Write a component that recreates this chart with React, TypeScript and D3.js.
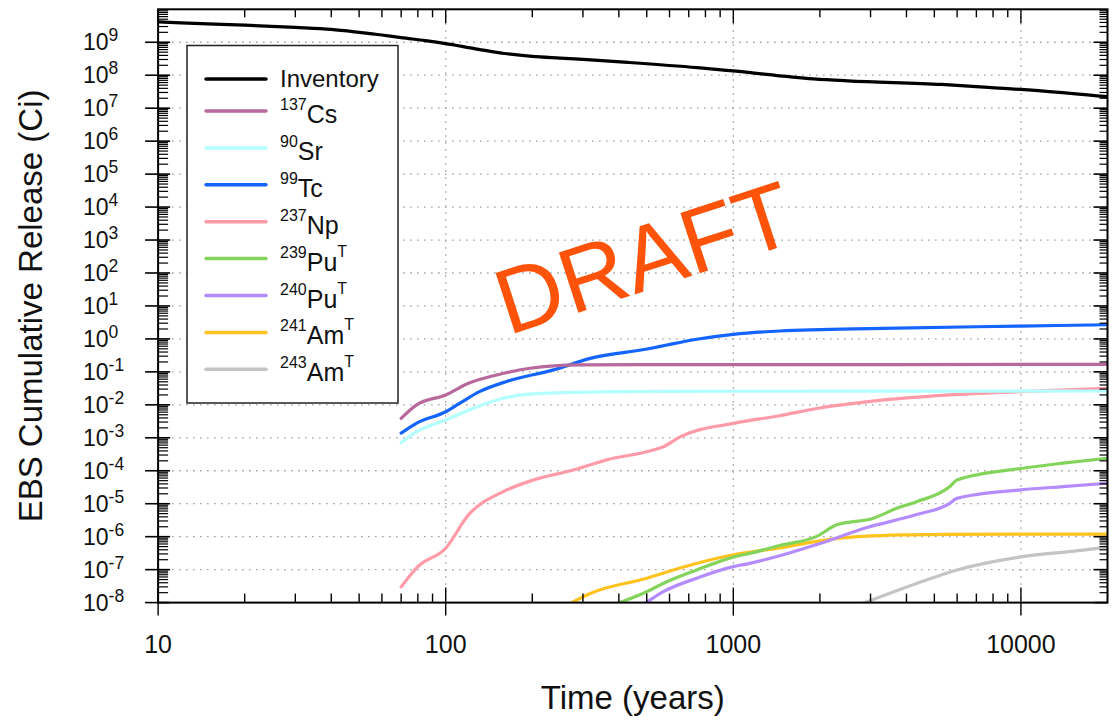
import React from 'react';
import * as d3 from 'd3';

const W = 1113;
const H = 721;
const PL = 158.1, PR = 1107.5, PT = 9.3, PB = 602.6;

// ---- data (time in years, cumulative release in Ci) ----
const inventoryT = [10, 12, 20, 30, 40, 50, 60, 70, 85, 100, 115, 135, 160, 200, 250, 300, 430, 750, 1000, 1900, 2500, 5300, 7700, 12000, 20000];
const inventoryV = [4.17e9, 3.89e9, 3.31e9, 2.82e9, 2.45e9, 2.0e9, 1.66e9, 1.38e9, 1.12e9, 9.12e8, 7.41e8, 5.75e8, 4.57e8, 3.72e8, 3.31e8, 3.02e8, 2.45e8, 1.7e8, 1.35e8, 7.76e7, 6.76e7, 5.25e7, 4.27e7, 3.31e7, 2.24e7];

const cs137T = [70, 79, 100, 120, 158, 196, 293, 500, 1000, 20000];
const cs137V = [3.9e-3, 9.8e-3, 2.0e-2, 4.5e-2, 8.9e-2, 1.29e-1, 1.62e-1, 1.66e-1, 1.66e-1, 1.7e-1];

const sr90T = [70, 79, 100, 125, 158, 202, 293, 600, 20000];
const sr90V = [7.1e-4, 1.51e-3, 3.47e-3, 7.9e-3, 1.58e-2, 2.14e-2, 2.4e-2, 2.57e-2, 2.63e-2];

const tc99T = [70, 79, 100, 112, 131, 163, 237, 318, 513, 587, 746, 1000, 1450, 3300, 10000, 20000];
const tc99V = [1.38e-3, 2.75e-3, 6.17e-3, 1.12e-2, 2.51e-2, 5.13e-2, 1.15e-1, 2.57e-1, 5.13e-1, 6.53e-1, 0.977, 1.38, 1.74, 2.09, 2.45, 2.69];

const np237T = [70, 80, 100, 120, 158, 202, 278, 363, 527, 571, 653, 1000, 1450, 1950, 2900, 5660, 10000, 20000];
const np237V = [3.0e-8, 1.23e-7, 4.47e-7, 4.57e-6, 2.29e-5, 5.25e-5, 1.05e-4, 2.14e-4, 4.27e-4, 5.37e-4, 1.07e-3, 2.75e-3, 4.68e-3, 7.76e-3, 1.23e-2, 2.0e-2, 2.51e-2, 3.16e-2];

const pu239T = [390, 500, 587, 746, 1000, 1150, 1450, 1950, 2290, 3070, 3700, 4340, 5660, 5990, 10000, 14000, 20000];
const pu239V = [9.0e-9, 2.14e-8, 4.27e-8, 9.8e-8, 2.4e-7, 3.16e-7, 5.4e-7, 1.02e-6, 2.29e-6, 3.63e-6, 7.24e-6, 1.15e-5, 3.31e-5, 5.25e-5, 1.17e-4, 1.7e-4, 2.4e-4];

const pu240T = [490, 571, 746, 1000, 1150, 1450, 1950, 2900, 4340, 5660, 5990, 10000, 14000, 20000];
const pu240V = [9.0e-9, 2.14e-8, 5.5e-8, 1.23e-7, 1.58e-7, 2.63e-7, 5.75e-7, 1.86e-6, 4.68e-6, 1.02e-5, 1.45e-5, 2.63e-5, 3.31e-5, 4.17e-5];

const am241T = [268, 318, 500, 653, 1000, 1450, 1950, 2220, 3860, 5660, 20000];
const am241V = [9.0e-9, 1.9e-8, 5.5e-8, 1.12e-7, 2.82e-7, 4.57e-7, 7.2e-7, 8.6e-7, 1.13e-6, 1.18e-6, 1.2e-6];

const am243T = [2780, 4340, 5990, 8090, 10000, 16500, 20000];
const am243V = [9.0e-9, 3.8e-8, 9.8e-8, 1.78e-7, 2.45e-7, 3.9e-7, 4.9e-7];

const xTickValues = [10, 100, 1000, 10000];
const xTickLabels = ['10', '100', '1000', '10000'];
const yTickExponents = [-8, -7, -6, -5, -4, -3, -2, -1, 0, 1, 2, 3, 4, 5, 6, 7, 8, 9];

type Series = { key: string; sup: string; main: string; supAfter: string; color: string; t: number[]; v: number[] };

const series: Series[] = [
  { key: 'inv', sup: '', main: 'Inventory', supAfter: '', color: '#000000', t: inventoryT, v: inventoryV },
  { key: 'cs', sup: '137', main: 'Cs', supAfter: '', color: '#b8699b', t: cs137T, v: cs137V },
  { key: 'sr', sup: '90', main: 'Sr', supAfter: '', color: '#b3ffff', t: sr90T, v: sr90V },
  { key: 'tc', sup: '99', main: 'Tc', supAfter: '', color: '#1464ff', t: tc99T, v: tc99V },
  { key: 'np', sup: '237', main: 'Np', supAfter: '', color: '#ff9aa8', t: np237T, v: np237V },
  { key: 'pu239', sup: '239', main: 'Pu', supAfter: 'T', color: '#84d45c', t: pu239T, v: pu239V },
  { key: 'pu240', sup: '240', main: 'Pu', supAfter: 'T', color: '#b58cff', t: pu240T, v: pu240V },
  { key: 'am241', sup: '241', main: 'Am', supAfter: 'T', color: '#ffc31f', t: am241T, v: am241V },
  { key: 'am243', sup: '243', main: 'Am', supAfter: 'T', color: '#c4c4c4', t: am243T, v: am243V },
];

const FONT = '"Liberation Sans", Arial, Helvetica, sans-serif';

export default function App() {
  const x = d3.scaleLog().domain([10, 20000]).range([PL, PR]);
  const y = d3.scaleLog().domain([1e-8, 1e10]).range([PB, PT]);

  const line = d3
    .line<[number, number]>()
    .x((d) => x(d[0]))
    .y((d) => y(d[1]))
    .curve(d3.curveMonotoneX);

  // minor ticks
  const xMinor: number[] = [];
  for (let k = 1; k <= 4; k++) {
    for (let m = 2; m <= 9; m++) {
      const val = m * Math.pow(10, k);
      if (val < 20000) xMinor.push(val);
    }
  }
  const yMinor: number[] = [];
  for (let k = -8; k <= 9; k++) {
    for (let m = 2; m <= 9; m++) yMinor.push(m * Math.pow(10, k));
  }
  const yMajor = yTickExponents.map((e) => Math.pow(10, e));

  const legendX0 = 206, legendX1 = 266;
  const legendY = (i: number) => (i === 0 ? 79 : 111 + (i - 1) * 36.9);

  return (
    <svg width={W} height={H} style={{ position: 'absolute', left: 0, top: 0, background: '#fff' }} fontFamily={FONT}>
      <defs>
        <clipPath id="plotClip">
          <rect x={PL} y={PT} width={PR - PL} height={PB - PT} />
        </clipPath>
      </defs>
      <rect x={0} y={0} width={W} height={H} fill="#fff" />

      {/* grid */}
      <g stroke="#9a9a9a" strokeWidth={1.3} strokeDasharray="1.5 5.5">
        {yMajor
          .filter((v) => v > 1e-8 && v < 1e10)
          .map((v) => (
            <line key={'gy' + v} x1={PL} x2={PR} y1={y(v)} y2={y(v)} />
          ))}
        {xTickValues
          .filter((v) => v > 10)
          .map((v) => (
            <line key={'gx' + v} x1={x(v)} x2={x(v)} y1={PT} y2={PB} />
          ))}
      </g>

      {/* data lines */}
      <g clipPath="url(#plotClip)" fill="none" strokeLinejoin="round" strokeLinecap="round">
        {series
          .slice()
          .reverse()
          .map((s) => (
            <path
              key={s.key}
              d={line(s.t.map((t, i) => [t, s.v[i]] as [number, number])) || ''}
              stroke={s.color}
              strokeWidth={3.2}
            />
          ))}
      </g>

      {/* frame */}
      <rect x={PL} y={PT} width={PR - PL} height={PB - PT} fill="none" stroke="#000" strokeWidth={2} />

      {/* x ticks */}
      <g stroke="#000" strokeWidth={1.4}>
        {xMinor.map((v) => (
          <g key={'xm' + v}>
            <line x1={x(v)} x2={x(v)} y1={PB} y2={PB - 9} />
            <line x1={x(v)} x2={x(v)} y1={PT} y2={PT + 8} />
          </g>
        ))}
        {xTickValues.map((v) => (
          <g key={'xM' + v}>
            <line x1={x(v)} x2={x(v)} y1={PB - 15} y2={PB + 13} />
            <line x1={x(v)} x2={x(v)} y1={PT} y2={PT + 14} />
          </g>
        ))}
      </g>
      {/* y ticks */}
      <g stroke="#000" strokeWidth={1.2}>
        {yMinor.map((v) => (
          <g key={'ym' + v}>
            <line x1={PL} x2={PL + 10} y1={y(v)} y2={y(v)} />
            <line x1={PR} x2={PR - 8} y1={y(v)} y2={y(v)} />
          </g>
        ))}
        {yMajor.map((v) => (
          <g key={'yM' + v}>
            <line x1={PL - 13} x2={PL + 12} y1={y(v)} y2={y(v)} strokeWidth={1.6} />
            <line x1={PR} x2={PR - 14} y1={y(v)} y2={y(v)} strokeWidth={1.6} />
          </g>
        ))}
      </g>

      {/* x tick labels */}
      <g fontSize={25} fill="#111" textAnchor="middle">
        {xTickValues.map((v, i) => (
          <text key={'xl' + v} x={x(v)} y={653}>
            {xTickLabels[i]}
          </text>
        ))}
      </g>
      {/* y tick labels */}
      <g fill="#111">
        {yTickExponents.map((e) => (
          <text key={'yl' + e} x={83} y={y(Math.pow(10, e)) + 8} fontSize={23}>
            <tspan>10</tspan>
            <tspan dy={-9} fontSize={17.5}>
              {String(e)}
            </tspan>
          </text>
        ))}
      </g>

      {/* axis titles */}
      <text x={(PL + PR) / 2} y={709} fontSize={33} textAnchor="middle" fill="#111">
        Time (years)
      </text>
      <text
        transform={`translate(42, ${(PT + PB) / 2}) rotate(-90)`}
        fontSize={33}
        textAnchor="middle"
        fill="#111"
      >
        EBS Cumulative Release (Ci)
      </text>

      {/* legend */}
      <rect x={187} y={45.5} width={211} height={357.5} fill="#fff" stroke="#222" strokeWidth={1.5} />
      {series.map((s, i) => {
        const ly = legendY(i);
        return (
          <g key={'lg' + s.key}>
            <line x1={legendX0} x2={legendX1} y1={ly} y2={ly} stroke={s.color} strokeWidth={3.5} strokeLinecap="round" />
            {s.sup === '' ? (
              <text x={280} y={ly + 8} fontSize={24} fill="#111">
                {s.main}
              </text>
            ) : (
              <text x={280} y={ly + 12} fontSize={25} fill="#111">
                <tspan fontSize={16} dy={-13}>
                  {s.sup}
                </tspan>
                <tspan dy={13}>{s.main}</tspan>
                {s.supAfter ? (
                  <tspan fontSize={16} dy={-14}>
                    {s.supAfter}
                  </tspan>
                ) : null}
              </text>
            )}
          </g>
        );
      })}

      {/* watermark */}
      <text x={508} y={335.5} transform="rotate(-18, 508, 335.5)" fontSize={92} fill="#ff5309">
        DRAFT
      </text>
    </svg>
  );
}
